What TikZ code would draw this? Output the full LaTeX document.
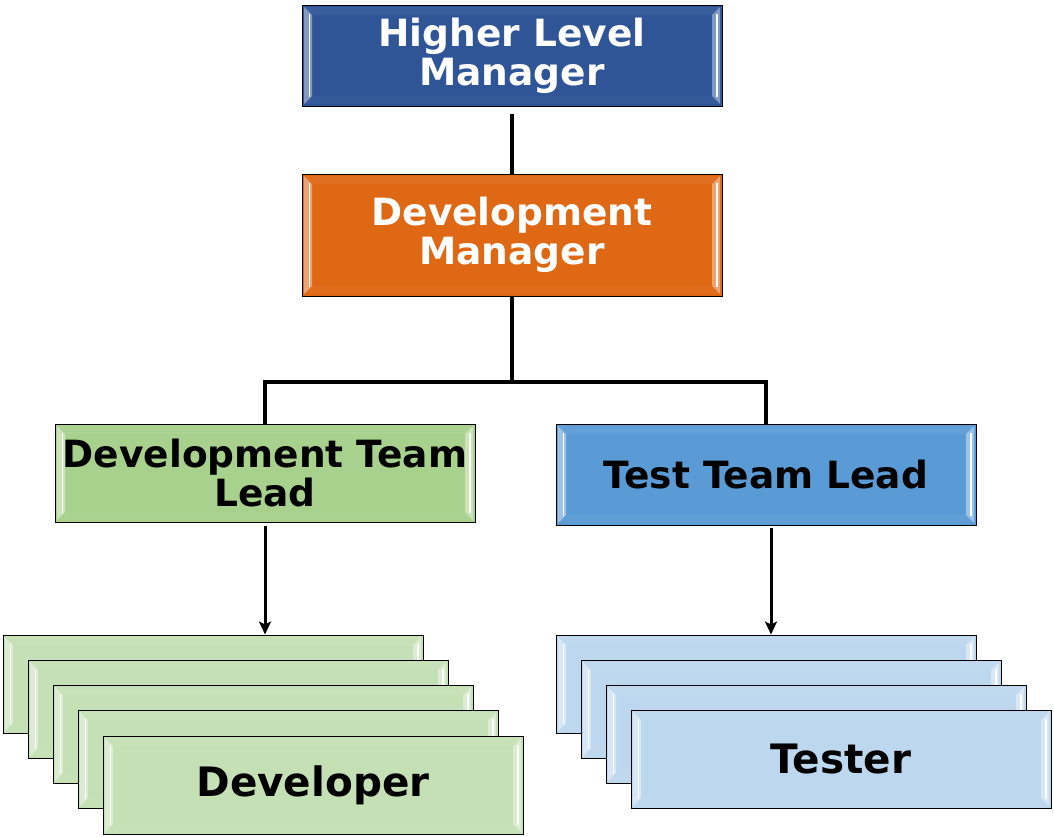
\documentclass[tikz,border=0pt]{standalone}
\usepackage{fontspec}
\newfontfamily\dejavu{DejaVu Sans}
\usetikzlibrary{arrows.meta,calc}
\definecolor{hlmblue}{RGB}{47,85,151}
\definecolor{dmorange}{RGB}{222,104,20}
\definecolor{dtlgreen}{RGB}{169,209,142}
\definecolor{ttlblue}{RGB}{91,155,213}
\definecolor{devgreen}{RGB}{197,224,180}
\definecolor{tstblue}{RGB}{189,215,238}
\tikzset{
  box/.style={draw=black, line width=1pt, minimum width=420pt, inner sep=0pt, align=center},
  bigtext/.style={font=\dejavu\bfseries\fontsize{37.5}{39}\selectfont},
  hugetext/.style={font=\dejavu\bfseries\fontsize{40.5}{42}\selectfont},
  bevel/.style={fill=#1, path picture={
    \fill[#1!95!white] ([shift={(2pt,-2pt)}]path picture bounding box.north west) -- ([shift={(-2pt,-2pt)}]path picture bounding box.north east) -- ([shift={(-10pt,-10pt)}]path picture bounding box.north east) -- ([shift={(10pt,-10pt)}]path picture bounding box.north west) -- cycle;
    \fill[#1!97!white] ([shift={(2pt,2pt)}]path picture bounding box.south west) -- ([shift={(-2pt,2pt)}]path picture bounding box.south east) -- ([shift={(-10pt,10pt)}]path picture bounding box.south east) -- ([shift={(10pt,10pt)}]path picture bounding box.south west) -- cycle;
    \fill[#1!60!white] ([shift={(2pt,-2pt)}]path picture bounding box.north west) -- ([shift={(10pt,-10pt)}]path picture bounding box.north west) -- ([shift={(10pt,10pt)}]path picture bounding box.south west) -- ([shift={(2pt,2pt)}]path picture bounding box.south west) -- cycle;
    \fill[#1!60!white] ([shift={(-2pt,-2pt)}]path picture bounding box.north east) -- ([shift={(-10pt,-10pt)}]path picture bounding box.north east) -- ([shift={(-10pt,10pt)}]path picture bounding box.south east) -- ([shift={(-2pt,2pt)}]path picture bounding box.south east) -- cycle;
    \draw[white, line width=1.6pt] ([shift={(7.5pt,-9pt)}]path picture bounding box.north west) -- ([shift={(7.5pt,9pt)}]path picture bounding box.south west);
    \draw[white, line width=1.6pt] ([shift={(-5pt,-9pt)}]path picture bounding box.north east) -- ([shift={(-5pt,9pt)}]path picture bounding box.south east);
  }},
  conn/.style={line width=3.8pt, draw=black},
  arr/.style={line width=3pt, draw=black, -{Stealth[length=13pt,width=12pt,inset=3pt]}},
}
\begin{document}
\begin{tikzpicture}[x=1pt,y=-1pt]
\useasboundingbox (0,0) rectangle (1054,836);
% top boxes
\node[box, bevel=hlmblue, minimum height=101pt, text=white, bigtext] (hlm) at (512,55.5) {\raisebox{-2pt}{\parbox{400pt}{\centering Higher Level\\Manager}}};
\node[box, bevel=dmorange, minimum height=122pt, text=white, bigtext] (dm) at (512,235) {Development\\Manager};
\node[box, bevel=dtlgreen, minimum height=98pt, bigtext] (dtl) at (265,473) {Development Team\\Lead};
\node[box, bevel=ttlblue, minimum height=101pt, bigtext] (ttl) at (766,474.5) {Test Team Lead};
% developer stack
\node[box, bevel=devgreen, minimum height=98pt] (dev1) at (213,684) {};
\node[box, bevel=devgreen, minimum height=98pt] (dev2) at (238,709) {};
\node[box, bevel=devgreen, minimum height=98pt] (dev3) at (263,734) {};
\node[box, bevel=devgreen, minimum height=98pt] (dev4) at (288,759) {};
\node[box, bevel=devgreen, minimum height=98pt, hugetext] (dev5) at (313,785) {Developer};
% tester stack
\node[box, bevel=tstblue, minimum height=98pt] (tst1) at (766,684) {};
\node[box, bevel=tstblue, minimum height=98pt] (tst2) at (791,709) {};
\node[box, bevel=tstblue, minimum height=98pt] (tst3) at (816,734) {};
\node[box, bevel=tstblue, minimum height=98pt, hugetext] (tst4) at (841,759) {Tester};
% connectors
\coordinate (bus) at (512,382);
\draw[conn, shorten <=7pt] (hlm.south) -- (dm.north);
\draw[conn] (dm.south) -- (bus);
\draw[conn] (dtl.north) -- (dtl.north |- bus) -- (ttl.north |- bus) -- (ttl.north);
\draw[arr, shorten <=3pt] (dtl.south) -- (dtl.south |- dev1.north);
\draw[arr, shorten <=2pt] ([xshift=5pt]ttl.south) -- ([xshift=5pt]tst1.north);
\end{tikzpicture}
\end{document}
